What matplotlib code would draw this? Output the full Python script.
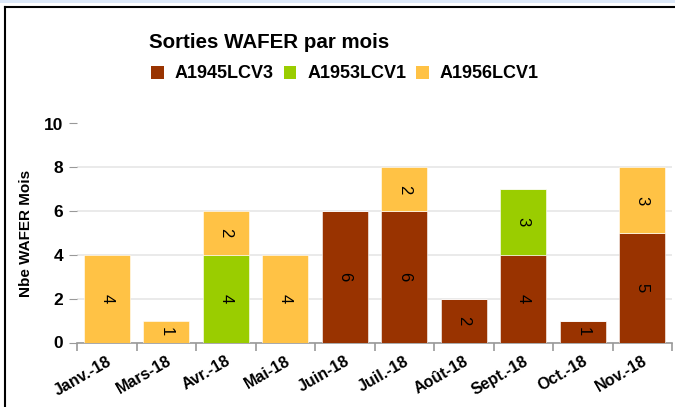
import numpy as np
import matplotlib.pyplot as plt
from matplotlib.patches import Rectangle, Patch

plt.rcParams['font.family'] = ['Liberation Sans', 'DejaVu Sans']

mois = ['Janv.-18', 'Mars-18', 'Avr.-18', 'Mai-18', 'Juin-18',
        'Juil.-18', 'Août-18', 'Sept.-18', 'Oct.-18', 'Nov.-18']
a1945 = [0, 0, 0, 0, 6, 6, 2, 4, 1, 5]
a1953 = [0, 0, 4, 0, 0, 0, 0, 3, 0, 0]
a1956 = [4, 1, 2, 4, 0, 2, 0, 0, 0, 3]
series = ['A1945LCV3', 'A1953LCV1', 'A1956LCV1']
couleurs = ['#993300', '#9ACD00', '#FFC245']

fig = plt.figure(figsize=(6.75, 4.07), dpi=100)
W, H = 675, 407
ax = fig.add_axes([77 / W, 1 - 342.5 / H, 595 / W, 219 / H])

x = np.arange(len(mois))
bas = np.zeros(len(mois))
for vals, nom, c in zip([a1945, a1953, a1956], series, couleurs):
    vals = np.array(vals, dtype=float)
    ax.bar(x, vals, width=0.77, bottom=bas, color=c, label=nom,
           edgecolor='#ffffff', linewidth=0.4, zorder=3)
    for xi, b, v in zip(x, bas, vals):
        if v > 0:
            ax.text(xi, b + v / 2, str(int(v)), rotation=-90, ha='center',
                    va='center', fontsize=12, color='black', zorder=4)
    bas += vals

ax.set_xlim(-0.5, len(mois) - 0.5)
ax.set_ylim(0, 10)
ax.set_yticks([0, 2, 4, 6, 8, 10])
ax.yaxis.grid(True, color='#e6e6e6', linewidth=1.2, zorder=0)
for s in ['top', 'right', 'left']:
    ax.spines[s].set_visible(False)
ax.spines['bottom'].set_color('#999999')
ax.spines['bottom'].set_linewidth(1.2)
ax.tick_params(axis='y', length=6, color='#999999', labelsize=12.5, pad=4)
for lab in ax.get_yticklabels():
    lab.set_fontweight('bold')

ax.set_xticks(np.arange(-0.5, len(mois) + 0.5, 1), minor=False)
ax.set_xticklabels([])
ax.tick_params(axis='x', length=6, color='#999999', width=1.2)
ax.set_xticks(x, minor=True)
ax.set_xticklabels(mois, minor=True, rotation=30, ha='right',
                   rotation_mode='anchor', fontsize=11.5, fontweight='bold')
ax.tick_params(axis='x', which='minor', length=0, pad=8)

ax.set_ylabel('Nbe WAFER Mois', fontsize=11, fontweight='bold', labelpad=8)

fig.text(149 / W, 1 - 43 / H, 'Sorties WAFER par mois', fontsize=14.8,
         fontweight='bold', va='center', ha='left')
poignees = [Patch(facecolor=c, edgecolor='none') for c in couleurs]
fig.legend(poignees, series, loc='center left', bbox_to_anchor=(135 / W, 1 - 74 / H),
           ncol=3, frameon=False, prop={'weight': 'bold', 'size': 13},
           handlelength=0.7, handleheight=0.7, handletextpad=0.6, columnspacing=0.55)

# cadre
fig.patches.append(Rectangle((0, 1 - 3 / H), 1, 3 / H, transform=fig.transFigure,
                             facecolor='#dce8f8', edgecolor='none'))
fig.add_artist(plt.Line2D([5 / W, 5 / W], [0, 1 - 7 / H], transform=fig.transFigure,
                          color='black', linewidth=1.5))
fig.add_artist(plt.Line2D([5 / W, 674 / W], [1 - 7 / H, 1 - 7 / H], transform=fig.transFigure,
                          color='black', linewidth=1.5))

fig.savefig('out.png', dpi=100)
